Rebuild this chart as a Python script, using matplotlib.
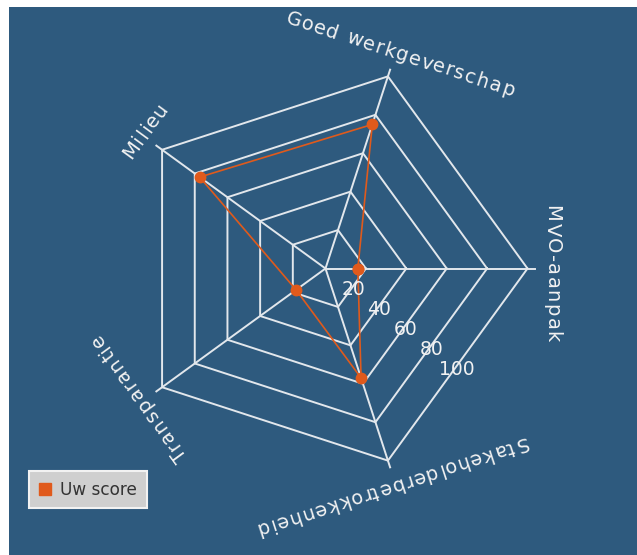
import numpy as np
import matplotlib
matplotlib.use('Agg')
import matplotlib.pyplot as plt
from matplotlib.patches import Rectangle
from matplotlib.lines import Line2D
from matplotlib.font_manager import FontProperties

# ---- data ----
categories = ['MVO-aanpak', 'Goed werkgeverschap', 'Milieu', 'Transparantie',
              'Stakeholderbetrokkenheid']
scores = [16, 75, 77, 18, 57]
ring_values = [20, 40, 60, 80, 100]
tick_labels = ['20', '40', '60', '80', '100']
series_name = 'Uw score'

# ---- style ----
W, H, DPI = 637, 555, 100
BG = '#2e5a7e'
GRID = '#e2e7ec'
ORANGE = '#e05a1c'
TXT = '#f2f2f2'

fig = plt.figure(figsize=(W / DPI, H / DPI), dpi=DPI)
fig.patch.set_facecolor('white')
fig.add_artist(Rectangle((9 / W, 0), 1 - 9 / W, 1 - 7 / H, transform=fig.transFigure,
                         facecolor=BG, edgecolor='none', zorder=0))

cx, cy, R = 325.5, 268.5, 202.0
ax = fig.add_axes([(cx - R) / W, (H - cy - R) / H, 2 * R / W, 2 * R / H],
                  projection='polar')
ax.set_theta_zero_location('E')
ax.set_theta_direction(1)
ax.set_ylim(0, 100)
ax.set_axis_off()

n = len(categories)
angles = np.arange(n) * 2 * np.pi / n
closed = np.r_[angles, angles[0]]

# pentagon rings
for v in ring_values:
    ax.plot(closed, [v] * (n + 1), color=GRID, lw=1.4, clip_on=False, zorder=2)
# spokes
for a in angles:
    ax.plot([a, a], [0, 103.5], color=GRID, lw=1.4, clip_on=False, zorder=2)

# series
ax.plot(closed, np.r_[scores, scores[0]], color=ORANGE, lw=1.2, marker='o',
        ms=7.5, clip_on=False, zorder=4)

# ring value labels
for v, lab in zip(ring_values, tick_labels):
    ax.text(np.deg2rad(-37.5), v * 0.809 + 1.2, lab, ha='center', va='center',
            fontsize=13.5, color=TXT, zorder=5, clip_on=False)

# category labels, drawn char by char with tracking
fp = FontProperties(family='DejaVu Sans', size=14)
fig.canvas.draw()
renderer = fig.canvas.get_renderer()

def textw(s):
    return renderer.get_text_width_height_descent(s, fp, ismath=False)[0]

base_w = textw('xx')
track = 1.5
r_base = 221.0
fwd = 5.0
for i, lab in enumerate(categories):
    phi = np.degrees(angles[i])
    rot = phi - 90.0
    u = np.array([np.cos(np.radians(rot)), np.sin(np.radians(rot))])
    nrm = np.array([np.cos(np.radians(phi)), np.sin(np.radians(phi))])
    advs = [textw('x' + c + 'x') - base_w for c in lab]
    L = sum(advs) + track * (len(lab) - 1)
    pos = -L / 2
    for c, a in zip(lab, advs):
        s = pos + a / 2 + fwd
        p = nrm * r_base + u * s
        ax.annotate(c, xy=(0, 0), xycoords='data', xytext=(p[0], p[1]),
                    textcoords='offset pixels', rotation=rot,
                    rotation_mode='anchor', ha='center', va='baseline',
                    fontproperties=fp, color=TXT, annotation_clip=False, zorder=5)
        pos += a + track

# legend
handle = Line2D([], [], marker='s', ls='none', color=ORANGE, ms=8.5)
leg = fig.legend(handles=[handle], labels=[series_name], loc='lower left',
                 bbox_to_anchor=(29 / W, 47 / H), bbox_transform=fig.transFigure,
                 borderaxespad=0, frameon=True, fancybox=False, facecolor='#cfcfcf',
                 edgecolor='#f2f2f2', framealpha=1, fontsize=12.2, borderpad=0.55,
                 handlelength=0.8, handletextpad=0.5, labelcolor='#333333')
leg.get_frame().set_linewidth(1.5)

fig.savefig('out.png', dpi=DPI)
